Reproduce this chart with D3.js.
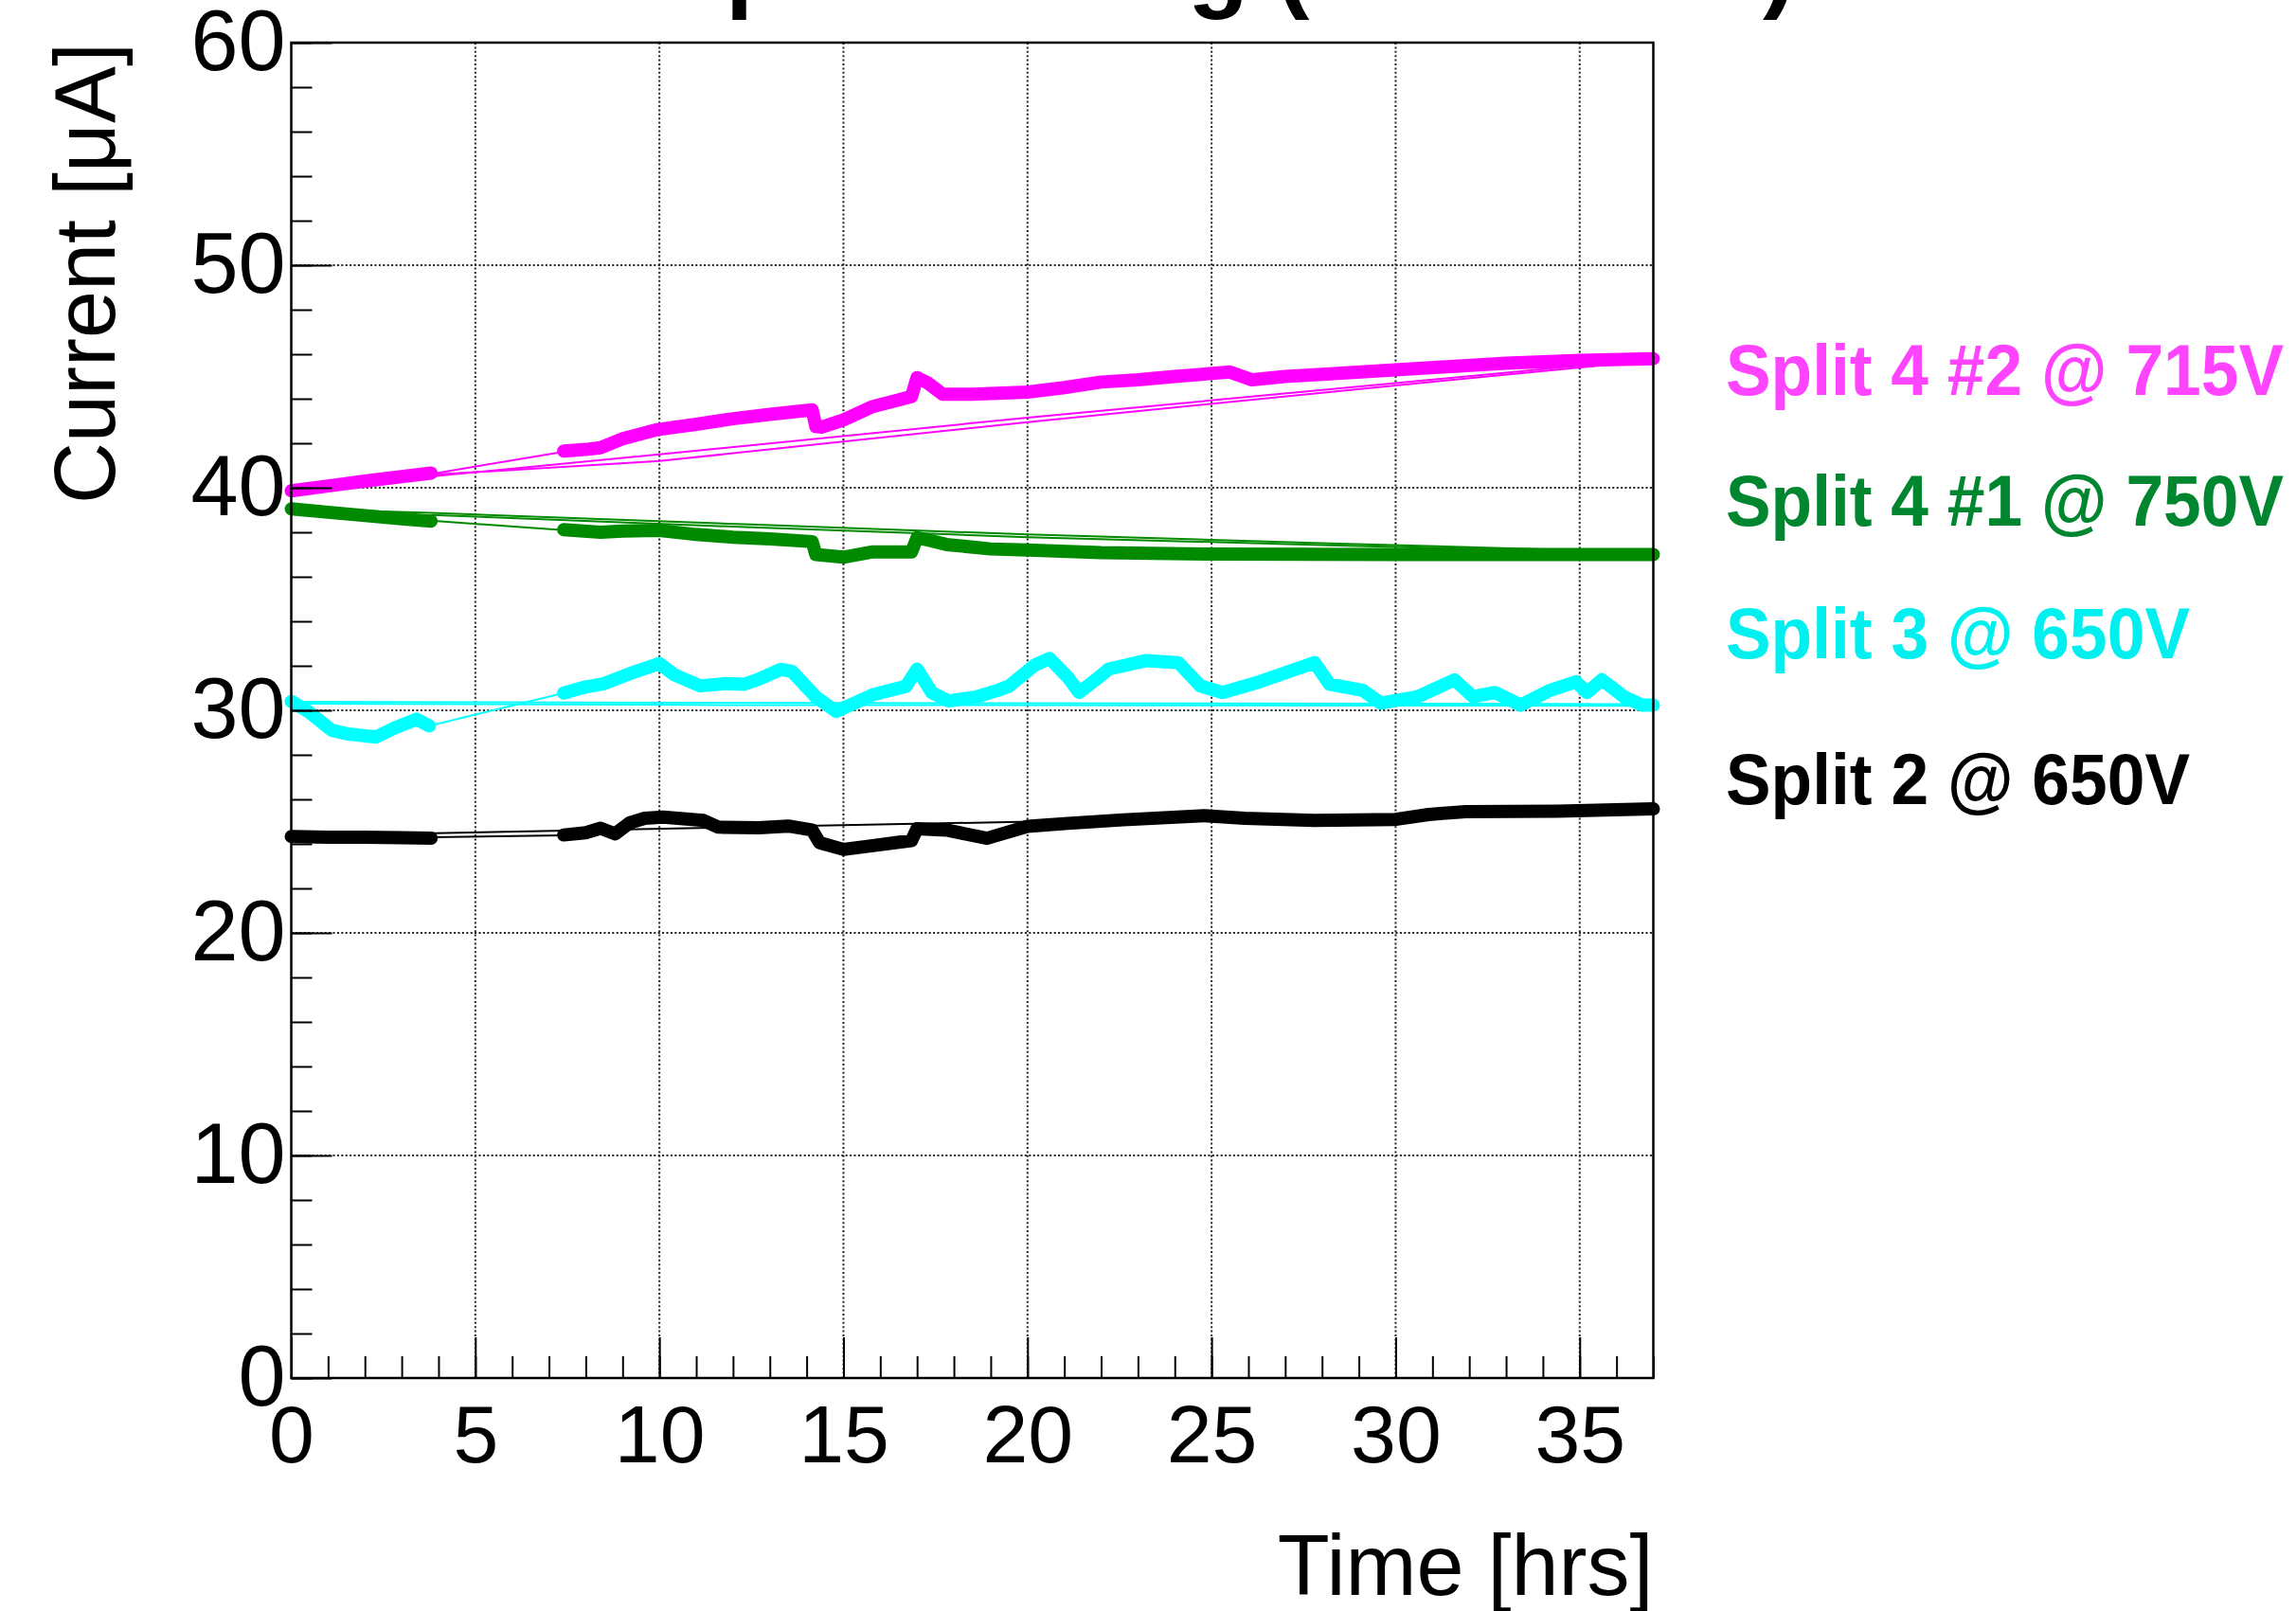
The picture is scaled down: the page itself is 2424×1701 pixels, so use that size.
<!DOCTYPE html>
<html>
<head>
<meta charset="utf-8">
<script src="https://cdn.jsdelivr.net/npm/d3@7"></script>
<style>
    body { margin: 0; background: #fff; }
    svg { display: block; }
    text { font-family: "Liberation Sans", Arial, Helvetica, sans-serif; }
</style>
</head>
<body>
<svg id="chart" width="2424" height="1701"></svg>
<script>
// axis ticks
const X_MAJOR = [0, 5, 10, 15, 20, 25, 30, 35];
const X_MINOR = d3.range(0, 38, 1);
const Y_MAJOR = [0, 10, 20, 30, 40, 50, 60];
const Y_MINOR = d3.range(0, 61, 2);

// Split 4 #2 @ 715V  (magenta)
const split4n2Runs = [
    [[0, 39.86], [1, 40.08], [2, 40.3], [3, 40.5], [3.8, 40.66]],
    [[7.4, 41.65], [8.0, 41.72], [8.4, 41.8], [9.0, 42.2], [9.9, 42.6], [11.0, 42.85], [12.0, 43.1],
     [13.0, 43.3], [14.15, 43.5], [14.25, 42.75], [14.4, 42.72], [15.0, 43.05], [15.8, 43.65],
     [16.5, 43.95], [16.85, 44.1], [17.0, 44.95], [17.3, 44.7], [17.7, 44.2], [18.5, 44.2],
     [20.0, 44.3], [21.0, 44.5], [22.0, 44.75], [23.0, 44.85], [24.0, 45.0], [25.5, 45.2],
     [26.1, 44.85], [27.0, 45.0], [28.0, 45.1], [30.0, 45.3], [31.5, 45.45], [33.0, 45.6],
     [35.0, 45.72], [37.0, 45.8]],
];
const split4n2Thin = [
    [[3.8, 40.62], [7.4, 41.62]],
    [[0, 39.9], [10, 41.5], [20, 43.15], [30, 44.7], [37, 45.8]],
    [[3.8, 40.58], [10, 41.2], [20, 42.95], [30, 44.6], [37, 45.72]],
];

// Split 4 #1 @ 750V  (green)
const split4n1Runs = [
    [[0, 39.05], [1, 38.9], [2, 38.75], [3, 38.6], [3.8, 38.5]],
    [[7.4, 38.12], [8.4, 38.0], [9.0, 38.05], [10.0, 38.08], [11.0, 37.9], [12.0, 37.78], [13.0, 37.7],
     [14.15, 37.58], [14.25, 37.0], [15.0, 36.88], [15.8, 37.12], [16.85, 37.12], [17.0, 37.75],
     [17.3, 37.65], [17.8, 37.45], [19.0, 37.25], [20.0, 37.2], [22.0, 37.08], [25.0, 37.02],
     [30.0, 37.0], [37.0, 37.0]],
];
const split4n1Thin = [
    [[3.8, 38.52], [7.4, 38.1]],
    [[0, 39.05], [3.8, 38.87], [12.5, 38.35], [20, 37.9], [28.2, 37.5], [37, 37.1]],
    [[3.8, 38.78], [12.5, 38.22], [20, 37.78], [28.2, 37.42], [37, 37.05]],
];

// Split 3 @ 650V  (cyan)
const split3Runs = [
    [[0, 30.4], [0.5, 29.9], [1.1, 29.1], [1.5, 28.95], [2.3, 28.8], [2.8, 29.2], [3.4, 29.6], [3.75, 29.3]],
    [[7.4, 30.78], [8.0, 31.05], [8.5, 31.2], [9.2, 31.65], [10.0, 32.1], [10.4, 31.6], [11.1, 31.1],
     [11.8, 31.2], [12.3, 31.17], [12.7, 31.4], [13.3, 31.84], [13.6, 31.75], [14.25, 30.6],
     [14.8, 29.95], [15.8, 30.7], [16.7, 31.08], [17.0, 31.85], [17.4, 30.8], [17.85, 30.42],
     [18.6, 30.6], [19.2, 30.9], [19.5, 31.09], [20.2, 32.04], [20.6, 32.33], [21.1, 31.47],
     [21.4, 30.8], [21.85, 31.37], [22.2, 31.85], [23.2, 32.23], [24.1, 32.14], [24.7, 31.09],
     [25.3, 30.8], [26.3, 31.28], [27.8, 32.14], [28.2, 31.18], [29.1, 30.9], [29.6, 30.32],
     [30.6, 30.61], [31.6, 31.37], [32.1, 30.61], [32.7, 30.8], [33.4, 30.23], [34.2, 30.9],
     [34.9, 31.28], [35.2, 30.8], [35.6, 31.37], [36.2, 30.61], [36.7, 30.23], [37.0, 30.23]],
];
const split3Thin = [
    [[3.75, 29.3], [7.4, 30.78]],
    [[0, 30.38], [11, 30.34], [37, 30.28]],
    [[0, 30.3], [11, 30.24], [37, 30.2]],
];

// Split 2 @ 650V  (black)
const split2Runs = [
    [[0, 24.33], [1, 24.3], [2, 24.3], [3, 24.28], [3.8, 24.26]],
    [[7.4, 24.4], [8.0, 24.5], [8.4, 24.7], [8.8, 24.45], [9.2, 24.95], [9.6, 25.15], [10.1, 25.2],
     [11.2, 25.05], [11.6, 24.75], [12.7, 24.72], [13.5, 24.8], [14.15, 24.62], [14.35, 24.05],
     [15.0, 23.75], [15.8, 23.92], [16.85, 24.15], [17.0, 24.68], [17.8, 24.62], [18.9, 24.25],
     [20.0, 24.79], [21.1, 24.92], [22.6, 25.08], [24.8, 25.27], [25.9, 25.15], [27.8, 25.05],
     [30.0, 25.1], [30.9, 25.32], [31.9, 25.45], [34.4, 25.47], [37.0, 25.57]],
];
const split2Thin = [
    [[3.8, 24.3], [7.4, 24.38]],
    [[0, 24.35], [37, 25.55]],
];

const SERIES_LABELS = ["Split 4 #2 @ 715V", "Split 4 #1 @ 750V", "Split 3 @ 650V", "Split 2 @ 650V"];
const LINE_COLORS = ["#ff00ff", "#008a00", "#00ffff", "#000000"];
const LABEL_COLORS = ["#ff44ff", "#00862e", "#00f0f0", "#000000"];

const series = [
    { runs: split4n2Runs, thin: split4n2Thin },
    { runs: split4n1Runs, thin: split4n1Thin },
    { runs: split3Runs, thin: split3Thin },
    { runs: split2Runs, thin: split2Thin },
].map((s, i) => ({ ...s, label: SERIES_LABELS[i], color: LINE_COLORS[i], labelColor: LABEL_COLORS[i] }));

const frame = { left: 307.5, right: 1745.5, top: 45, bottom: 1455 };
const svg = d3.select("#chart");

const x = d3.scaleLinear().domain([0, 37]).range([frame.left, frame.right]);
const y = d3.scaleLinear().domain([0, 60]).range([frame.bottom, frame.top]);

// title (only its descenders reach into the canvas)
svg.append("text")
    .attr("x", 521)
    .attr("y", -1)
    .attr("font-size", 105)
    .attr("font-weight", "bold")
    .text("HV Split Testing (Irradiated)");

// grid
const grid = svg.append("g")
    .attr("stroke", "#222")
    .attr("stroke-width", 2)
    .attr("stroke-dasharray", "2 2.4");

grid.selectAll(".gx")
    .data(X_MAJOR.filter((d) => d > 0))
    .enter()
    .append("line")
    .attr("x1", (d) => x(d))
    .attr("x2", (d) => x(d))
    .attr("y1", frame.top)
    .attr("y2", frame.bottom);

grid.selectAll(".gy")
    .data(Y_MAJOR.filter((d) => d > 0 && d < 60))
    .enter()
    .append("line")
    .attr("x1", frame.left)
    .attr("x2", frame.right)
    .attr("y1", (d) => y(d))
    .attr("y2", (d) => y(d));

// data
const line = d3.line().x((d) => x(d[0])).y((d) => y(d[1]));

series.forEach((s) => {
    const g = svg.append("g");
    g.selectAll(".thin")
        .data(s.thin)
        .enter()
        .append("path")
        .attr("d", line)
        .attr("fill", "none")
        .attr("stroke", s.color)
        .attr("stroke-width", 2);
    g.selectAll(".run")
        .data(s.runs)
        .enter()
        .append("path")
        .attr("d", line)
        .attr("fill", "none")
        .attr("stroke", s.color)
        .attr("stroke-width", 14)
        .attr("stroke-linecap", "round")
        .attr("stroke-linejoin", "round");
});

// axes
function styleAxis(g, size) {
    g.select(".domain").remove();
    g.selectAll("line").attr("stroke", "#000").attr("stroke-width", 2);
    g.selectAll("text")
        .attr("font-size", size)
        .attr("font-family", '"Liberation Sans", Arial, sans-serif')
        .attr("fill", "#000");
}

svg.append("g")
    .attr("transform", `translate(${frame.left},0)`)
    .call(d3.axisLeft(y).tickValues(Y_MINOR).tickSize(-22).tickFormat(""))
    .call((g) => styleAxis(g, 0));

svg.append("g")
    .attr("transform", `translate(${frame.left},0)`)
    .call(d3.axisLeft(y).tickValues(Y_MAJOR).tickSize(-43).tickSizeOuter(0).tickPadding(6))
    .call((g) => styleAxis(g, 90));

svg.append("g")
    .attr("transform", `translate(0,${frame.bottom})`)
    .call(d3.axisBottom(x).tickValues(X_MINOR).tickSize(-23).tickFormat(""))
    .call((g) => styleAxis(g, 0));

svg.append("g")
    .attr("transform", `translate(0,${frame.bottom})`)
    .call(d3.axisBottom(x).tickValues(X_MAJOR).tickSize(-43).tickSizeOuter(0).tickPadding(28))
    .call((g) => styleAxis(g, 86));

// frame
svg.append("rect")
    .attr("x", frame.left)
    .attr("y", frame.top)
    .attr("width", frame.right - frame.left)
    .attr("height", frame.bottom - frame.top)
    .attr("fill", "none")
    .attr("stroke", "#000")
    .attr("stroke-width", 2.5);

// axis titles
svg.append("text")
    .attr("transform", `translate(121,${frame.top}) rotate(-90)`)
    .attr("text-anchor", "end")
    .attr("font-size", 90)
    .text("Current [\u03bcA]");

svg.append("text")
    .attr("x", frame.right)
    .attr("y", 1684)
    .attr("text-anchor", "end")
    .attr("font-size", 90)
    .text("Time [hrs]");

// labels to the right of the frame
const LABEL_BASELINES = [417, 555, 695, 849];
const LABEL_WIDTHS = [589, 589, 490, 490];

svg.selectAll(".series-label")
    .data(series)
    .enter()
    .append("text")
    .attr("class", "series-label")
    .attr("x", 1822)
    .attr("y", (d, i) => LABEL_BASELINES[i])
    .attr("font-size", 76)
    .attr("font-weight", "bold")
    .attr("fill", (d) => d.labelColor)
    .attr("textLength", (d, i) => LABEL_WIDTHS[i])
    .attr("lengthAdjust", "spacingAndGlyphs")
    .text((d) => d.label);
</script>
</body>
</html>
